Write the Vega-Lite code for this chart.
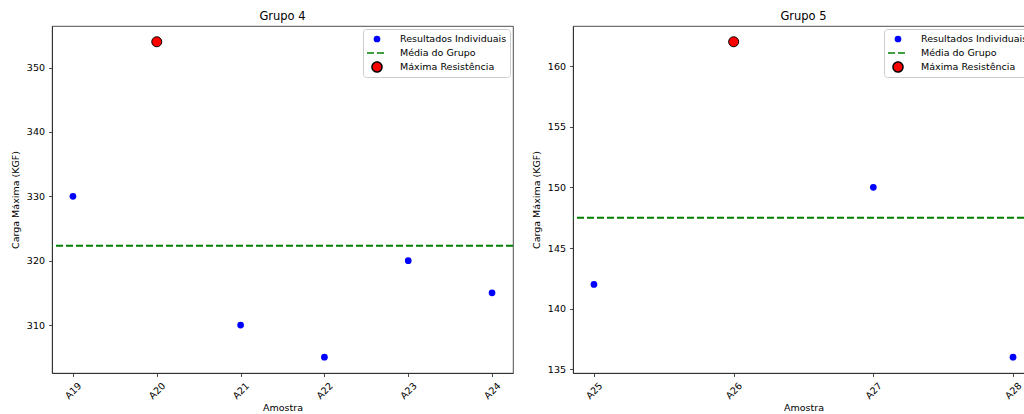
{
  "$schema": "https://vega.github.io/schema/vega-lite/v6.json",
  "padding": {"left": 9, "top": 10, "right": 0, "bottom": 0},
  "background": "white",
  "datasets": {
    "g4": [
      {"amostra": "A19", "carga": 330},
      {"amostra": "A20", "carga": 354},
      {"amostra": "A21", "carga": 310},
      {"amostra": "A22", "carga": 305},
      {"amostra": "A23", "carga": 320},
      {"amostra": "A24", "carga": 315}
    ],
    "g5": [
      {"amostra": "A25", "carga": 142},
      {"amostra": "A26", "carga": 162},
      {"amostra": "A27", "carga": 150},
      {"amostra": "A28", "carga": 136}
    ]
  },
  "spacing": 15,
  "resolve": {
    "scale": {"color": "independent", "stroke": "independent", "shape": "independent", "size": "independent", "strokeDash": "independent", "x": "independent", "y": "independent"},
    "legend": {"color": "independent", "stroke": "independent", "shape": "independent", "size": "independent", "strokeDash": "independent"}
  },
  "hconcat": [
    {
      "title": "Grupo 4",
      "width": 461,
      "height": 347,
      "data": {"name": "g4"},
      "layer": [
        {
          "mark": {"type": "point", "filled": true, "opacity": 1, "strokeWidth": 1},
          "encoding": {
            "x": {"field": "amostra", "type": "nominal", "title": "Amostra", "scale": {"type": "point", "padding": 0.25}},
            "y": {"field": "carga", "type": "quantitative", "title": "Carga Máxima (KGF)", "scale": {"domain": [302.55, 356.45], "nice": false, "zero": false}, "axis": {"values": [310, 320, 330, 340, 350]}},
            "color": {"datum": "Resultados Individuais", "type": "nominal", "legend": {"title": null},
              "scale": {"domain": ["Resultados Individuais", "Média do Grupo", "Máxima Resistência"], "range": ["blue", "green", "red"]}},
            "stroke": {"datum": "Resultados Individuais", "type": "nominal", "legend": {"title": null},
              "scale": {"domain": ["Resultados Individuais", "Média do Grupo", "Máxima Resistência"], "range": ["transparent", "green", "black"]}},
            "shape": {"datum": "Resultados Individuais", "type": "nominal", "legend": {"title": null},
              "scale": {"domain": ["Resultados Individuais", "Média do Grupo", "Máxima Resistência"], "range": ["circle", "M-2.35,0H2.35", "circle"]}},
            "size": {"datum": "Resultados Individuais", "type": "nominal", "legend": {"title": null},
              "scale": {"domain": ["Resultados Individuais", "Média do Grupo", "Máxima Resistência"], "range": [45, 100]}}
          }
        },
        {
          "mark": {"type": "rule", "strokeWidth": 2},
          "encoding": {
            "y": {"aggregate": "mean", "field": "carga", "type": "quantitative"},
            "color": {"datum": "Média do Grupo", "type": "nominal"},
            "stroke": {"datum": "Média do Grupo", "type": "nominal"},
            "strokeDash": {"datum": "Média do Grupo", "type": "nominal", "legend": {"title": null},
              "scale": {"domain": ["Resultados Individuais", "Média do Grupo", "Máxima Resistência"], "range": [[1, 0], [7, 3], [1, 0]]}}
          }
        },
        {
          "transform": [
            {"joinaggregate": [{"op": "max", "field": "carga", "as": "maxc"}]},
            {"filter": "datum.carga === datum.maxc"}
          ],
          "mark": {"type": "point", "filled": true, "opacity": 1, "strokeWidth": 1},
          "encoding": {
            "x": {"field": "amostra", "type": "nominal"},
            "y": {"field": "carga", "type": "quantitative"},
            "color": {"datum": "Máxima Resistência", "type": "nominal"},
            "stroke": {"datum": "Máxima Resistência", "type": "nominal"},
            "shape": {"datum": "Máxima Resistência", "type": "nominal"},
            "size": {"datum": "Máxima Resistência", "type": "nominal"}
          }
        }
      ]
    },
    {
      "title": "Grupo 5",
      "width": 461,
      "height": 347,
      "data": {"name": "g5"},
      "layer": [
        {
          "mark": {"type": "point", "filled": true, "opacity": 1, "strokeWidth": 1},
          "encoding": {
            "x": {"field": "amostra", "type": "nominal", "title": "Amostra", "scale": {"type": "point", "padding": 0.15}},
            "y": {"field": "carga", "type": "quantitative", "title": "Carga Máxima (KGF)", "scale": {"domain": [134.7, 163.3], "nice": false, "zero": false}, "axis": {"values": [135, 140, 145, 150, 155, 160]}},
            "color": {"datum": "Resultados Individuais", "type": "nominal", "legend": {"title": null},
              "scale": {"domain": ["Resultados Individuais", "Média do Grupo", "Máxima Resistência"], "range": ["blue", "green", "red"]}},
            "stroke": {"datum": "Resultados Individuais", "type": "nominal", "legend": {"title": null},
              "scale": {"domain": ["Resultados Individuais", "Média do Grupo", "Máxima Resistência"], "range": ["transparent", "green", "black"]}},
            "shape": {"datum": "Resultados Individuais", "type": "nominal", "legend": {"title": null},
              "scale": {"domain": ["Resultados Individuais", "Média do Grupo", "Máxima Resistência"], "range": ["circle", "M-2.35,0H2.35", "circle"]}},
            "size": {"datum": "Resultados Individuais", "type": "nominal", "legend": {"title": null},
              "scale": {"domain": ["Resultados Individuais", "Média do Grupo", "Máxima Resistência"], "range": [45, 100]}}
          }
        },
        {
          "mark": {"type": "rule", "strokeWidth": 2},
          "encoding": {
            "y": {"aggregate": "mean", "field": "carga", "type": "quantitative"},
            "color": {"datum": "Média do Grupo", "type": "nominal"},
            "stroke": {"datum": "Média do Grupo", "type": "nominal"},
            "strokeDash": {"datum": "Média do Grupo", "type": "nominal", "legend": {"title": null},
              "scale": {"domain": ["Resultados Individuais", "Média do Grupo", "Máxima Resistência"], "range": [[1, 0], [7, 3], [1, 0]]}}
          }
        },
        {
          "transform": [
            {"joinaggregate": [{"op": "max", "field": "carga", "as": "maxc"}]},
            {"filter": "datum.carga === datum.maxc"}
          ],
          "mark": {"type": "point", "filled": true, "opacity": 1, "strokeWidth": 1},
          "encoding": {
            "x": {"field": "amostra", "type": "nominal"},
            "y": {"field": "carga", "type": "quantitative"},
            "color": {"datum": "Máxima Resistência", "type": "nominal"},
            "stroke": {"datum": "Máxima Resistência", "type": "nominal"},
            "shape": {"datum": "Máxima Resistência", "type": "nominal"},
            "size": {"datum": "Máxima Resistência", "type": "nominal"}
          }
        }
      ]
    }
  ],
  "config": {
    "font": "DejaVu Sans",
    "view": {"stroke": "#222222", "strokeWidth": 0.8},
    "axis": {
      "labelFont": "DejaVu Sans", "labelFontSize": 9.5, "labelColor": "black",
      "titleFont": "DejaVu Sans", "titleFontSize": 9.5, "titleFontWeight": "normal", "titleColor": "black",
      "domainColor": "#222222", "domainWidth": 0.8, "tickColor": "#222222", "tickWidth": 0.8, "tickSize": 3.5,
      "grid": false, "labelPadding": 4
    },
    "axisX": {"labelAngle": -45, "labelAlign": "center", "labelBaseline": "middle", "labelPadding": 14, "titlePadding": 2},
    "axisY": {"titlePadding": 6},
    "title": {"font": "DejaVu Sans", "fontSize": 11.5, "fontWeight": "normal", "color": "black", "offset": 4},
    "legend": {
      "orient": "top-right", "offset": 3, "padding": 3, "rowPadding": 0, "clipHeight": 14,
      "symbolOffset": 5, "labelOffset": 17, "labelFont": "DejaVu Sans", "labelFontSize": 9.5, "symbolStrokeWidth": 1.5,
      "labelColor": "black", "labelLimit": 300, "fillColor": "white", "strokeColor": "#cccccc", "cornerRadius": 3
    }
  }
}
